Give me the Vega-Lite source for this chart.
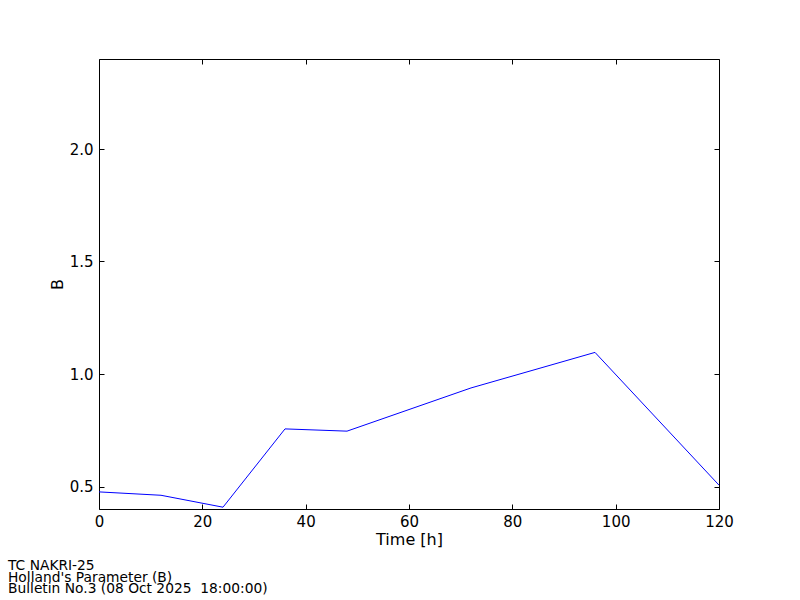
{
  "$schema": "https://vega.github.io/schema/vega-lite/v6.json",
  "autosize": {"type": "none"},
  "width": 620,
  "height": 450,
  "padding": {"left": 99, "top": 59, "right": 81, "bottom": 91},
  "background": "white",
  "config": {
    "font": "DejaVu Sans",
    "view": {"stroke": "black", "strokeWidth": 1},
    "axis": {"grid": false, "domain": false, "tickColor": "black", "tickSize": -5, "tickWidth": 1, "labelColor": "black", "titleColor": "black", "labelFontSize": 15, "titleFontSize": 16, "titleFontWeight": "normal", "labelFont": "DejaVu Sans", "titleFont": "DejaVu Sans", "labelFlush": false}
  },
  "data": {"values": [
    {"t": 0, "b": 0.476},
    {"t": 12, "b": 0.461},
    {"t": 24, "b": 0.408},
    {"t": 36, "b": 0.756},
    {"t": 48, "b": 0.746},
    {"t": 72, "b": 0.938},
    {"t": 96, "b": 1.096},
    {"t": 120, "b": 0.506}
  ]},
  "title": {
    "text": ["TC NAKRI-25", "Holland's Parameter (B)", "Bulletin No.3 (08 Oct 2025\u00a0\u00a018:00:00)"],
    "orient": "bottom",
    "anchor": "start",
    "frame": "group",
    "dx": -91,
    "offset": 12,
    "fontSize": 13.8,
    "fontWeight": "normal",
    "lineHeight": 11.7,
    "color": "black",
    "font": "DejaVu Sans"
  },
  "layer": [
    {
      "mark": {"type": "line", "color": "#0000ff", "strokeWidth": 1, "clip": true},
      "encoding": {
        "x": {"field": "t", "type": "quantitative", "scale": {"domain": [0, 120], "nice": false, "zero": false},
              "axis": {"orient": "bottom", "title": "Time [h]", "values": [0, 20, 40, 60, 80, 100, 120], "labelPadding": 10, "titlePadding": 2, "format": "d"}},
        "y": {"field": "b", "type": "quantitative", "scale": {"domain": [0.4, 2.4], "nice": false, "zero": false},
              "axis": {"orient": "left", "title": "B", "values": [0.5, 1.0, 1.5, 2.0], "format": ".1f", "labelPadding": 11, "titlePadding": 4}}
      }
    },
    {
      "mark": {"type": "line", "opacity": 0},
      "encoding": {
        "x": {"field": "t", "type": "quantitative", "axis": {"orient": "top", "title": null, "labels": false, "values": [0, 20, 40, 60, 80, 100, 120]}},
        "y": {"field": "b", "type": "quantitative", "axis": {"orient": "right", "title": null, "labels": false, "values": [0.5, 1.0, 1.5, 2.0]}}
      }
    }
  ],
  "resolve": {"axis": {"x": "independent", "y": "independent"}}
}
